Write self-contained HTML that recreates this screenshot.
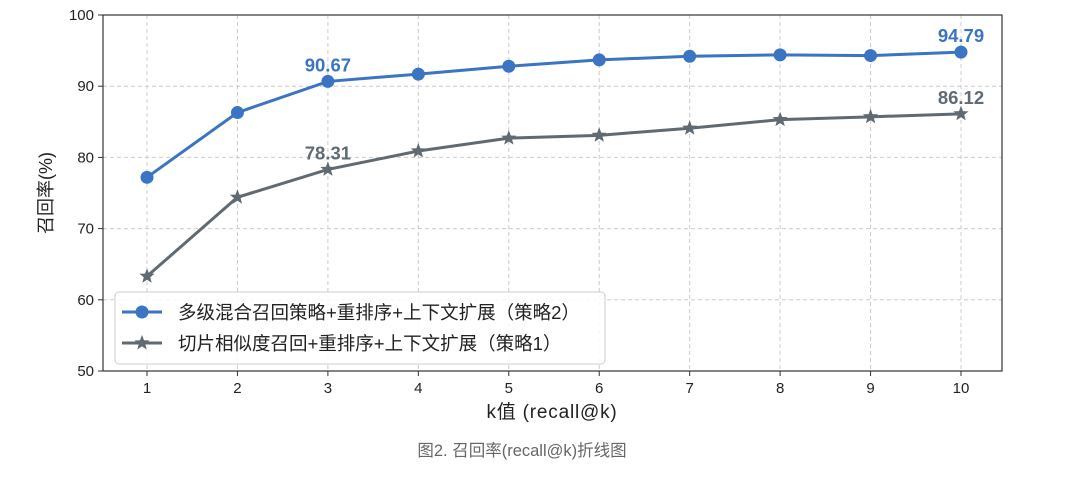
<!DOCTYPE html>
<html><head><meta charset="utf-8"><style>
body{margin:0;background:#fff;width:1080px;height:477px;overflow:hidden;font-family:"Liberation Sans","Noto Sans CJK SC",sans-serif}
</style></head><body>
<svg id="chart" width="1080" height="477" xmlns="http://www.w3.org/2000/svg" font-family="Liberation Sans, Noto Sans CJK SC, sans-serif"></svg>
<script>
const categories=[1,2,3,4,5,6,7,8,9,10];
const series2=[77.2,86.3,90.67,91.7,92.8,93.7,94.2,94.4,94.3,94.79];
const series1=[63.3,74.4,78.31,80.9,82.7,83.1,84.1,85.3,85.7,86.12];
const yTicks=[50,60,70,80,90,100];
const labels2=[[2,"90.67"],[9,"94.79"]];
const labels1=[[2,"78.31"],[9,"86.12"]];
const NS="http://www.w3.org/2000/svg";
const svg=document.getElementById('chart');
const L=103,R=1002,T=15,B=371;
const x=k=>147+(k-1)*(961-147)/9;
const y=v=>B-(v-50)*(B-T)/50;
function el(t,a,p){const e=document.createElementNS(NS,t);for(const k in a)e.setAttribute(k,a[k]);(p||svg).appendChild(e);return e;}
yTicks.forEach(v=>{const g=el('line',{x1:L,x2:R,y1:y(v),y2:y(v),stroke:'#ccc','stroke-dasharray':'4,3'});


el('line',{x1:L-5,x2:L,y1:y(v),y2:y(v),stroke:'#333'});
const t=el('text',{x:L-9,y:y(v)+5,'text-anchor':'end','font-size':15,fill:'#222'});t.textContent=v;

});
categories.forEach(k=>{const g=el('line',{x1:x(k),x2:x(k),y1:T,y2:B,stroke:'#ccc','stroke-dasharray':'4,3'});


el('line',{x1:x(k),x2:x(k),y1:B,y2:B+5,stroke:'#333'});
const t=el('text',{x:x(k),y:B+22,'text-anchor':'middle','font-size':15,fill:'#222'});t.textContent=k;

});
const fr=el('rect',{x:L,y:T,width:R-L,height:B-T,fill:'none',stroke:'#333','stroke-width':1.2});


function star(cx,cy,r,col){let p=[];for(let i=0;i<10;i++){const a=-Math.PI/2+i*Math.PI/5,rr=i%2?r*0.42:r;p.push((cx+rr*Math.cos(a)).toFixed(1)+','+(cy+rr*Math.sin(a)).toFixed(1));}
return el('polygon',{points:p.join(' '),fill:col});}
function drawSeries(vals,col,mk,name){
const pl=el('polyline',{points:vals.map((v,i)=>x(categories[i])+','+y(v)).join(' '),fill:'none',stroke:col,'stroke-width':3});


vals.forEach((v,i)=>{const m=mk==='o'?el('circle',{cx:x(categories[i]),cy:y(v),r:6.5,fill:col}):star(x(categories[i]),y(v),8,col);

});}
drawSeries(series1,'#5f6a72','*','strategy1');
drawSeries(series2,'#3a74c2','o','strategy2');
function lab(arr,vals,col){arr.forEach(([i,s])=>{const t=el('text',{x:x(categories[i]),y:y(vals[i])-10,'text-anchor':'middle','font-size':18.5,'font-weight':'bold',fill:col});t.textContent=s;

});}
lab(labels2,series2,'#3a74c2');lab(labels1,series1,'#5f6a72');
let t=el('text',{x:552,y:418,'text-anchor':'middle','font-size':19,'letter-spacing':'0.8',fill:'#222'});t.textContent='k值 (recall@k)';


t=el('text',{x:0,y:0,'text-anchor':'middle','font-size':18,fill:'#222',transform:'translate(52,193) rotate(-90)'});t.textContent='召回率(%)';


const lg=el('g',{});


el('rect',{x:115,y:292,width:490,height:72,rx:4,fill:'#fff','fill-opacity':0.85,stroke:'#ccc'},lg);
el('line',{x1:122,x2:162,y1:312,y2:312,stroke:'#3a74c2','stroke-width':3},lg);
el('circle',{cx:142,cy:312,r:6.5,fill:'#3a74c2'},lg);
t=el('text',{x:178,y:319,'font-size':18.5,fill:'#222'},lg);t.textContent='多级混合召回策略+重排序+上下文扩展（策略2）';


el('line',{x1:122,x2:162,y1:343,y2:343,stroke:'#5f6a72','stroke-width':3},lg);
lg.appendChild(star(142,343,8,'#5f6a72'));
t=el('text',{x:178,y:350,'font-size':18.5,fill:'#222'},lg);t.textContent='切片相似度召回+重排序+上下文扩展（策略1）';


t=el('text',{x:522,y:456,'text-anchor':'middle','font-size':16.5,fill:'#666'});t.textContent='图2. 召回率(recall@k)折线图';


</script>
</body></html>
